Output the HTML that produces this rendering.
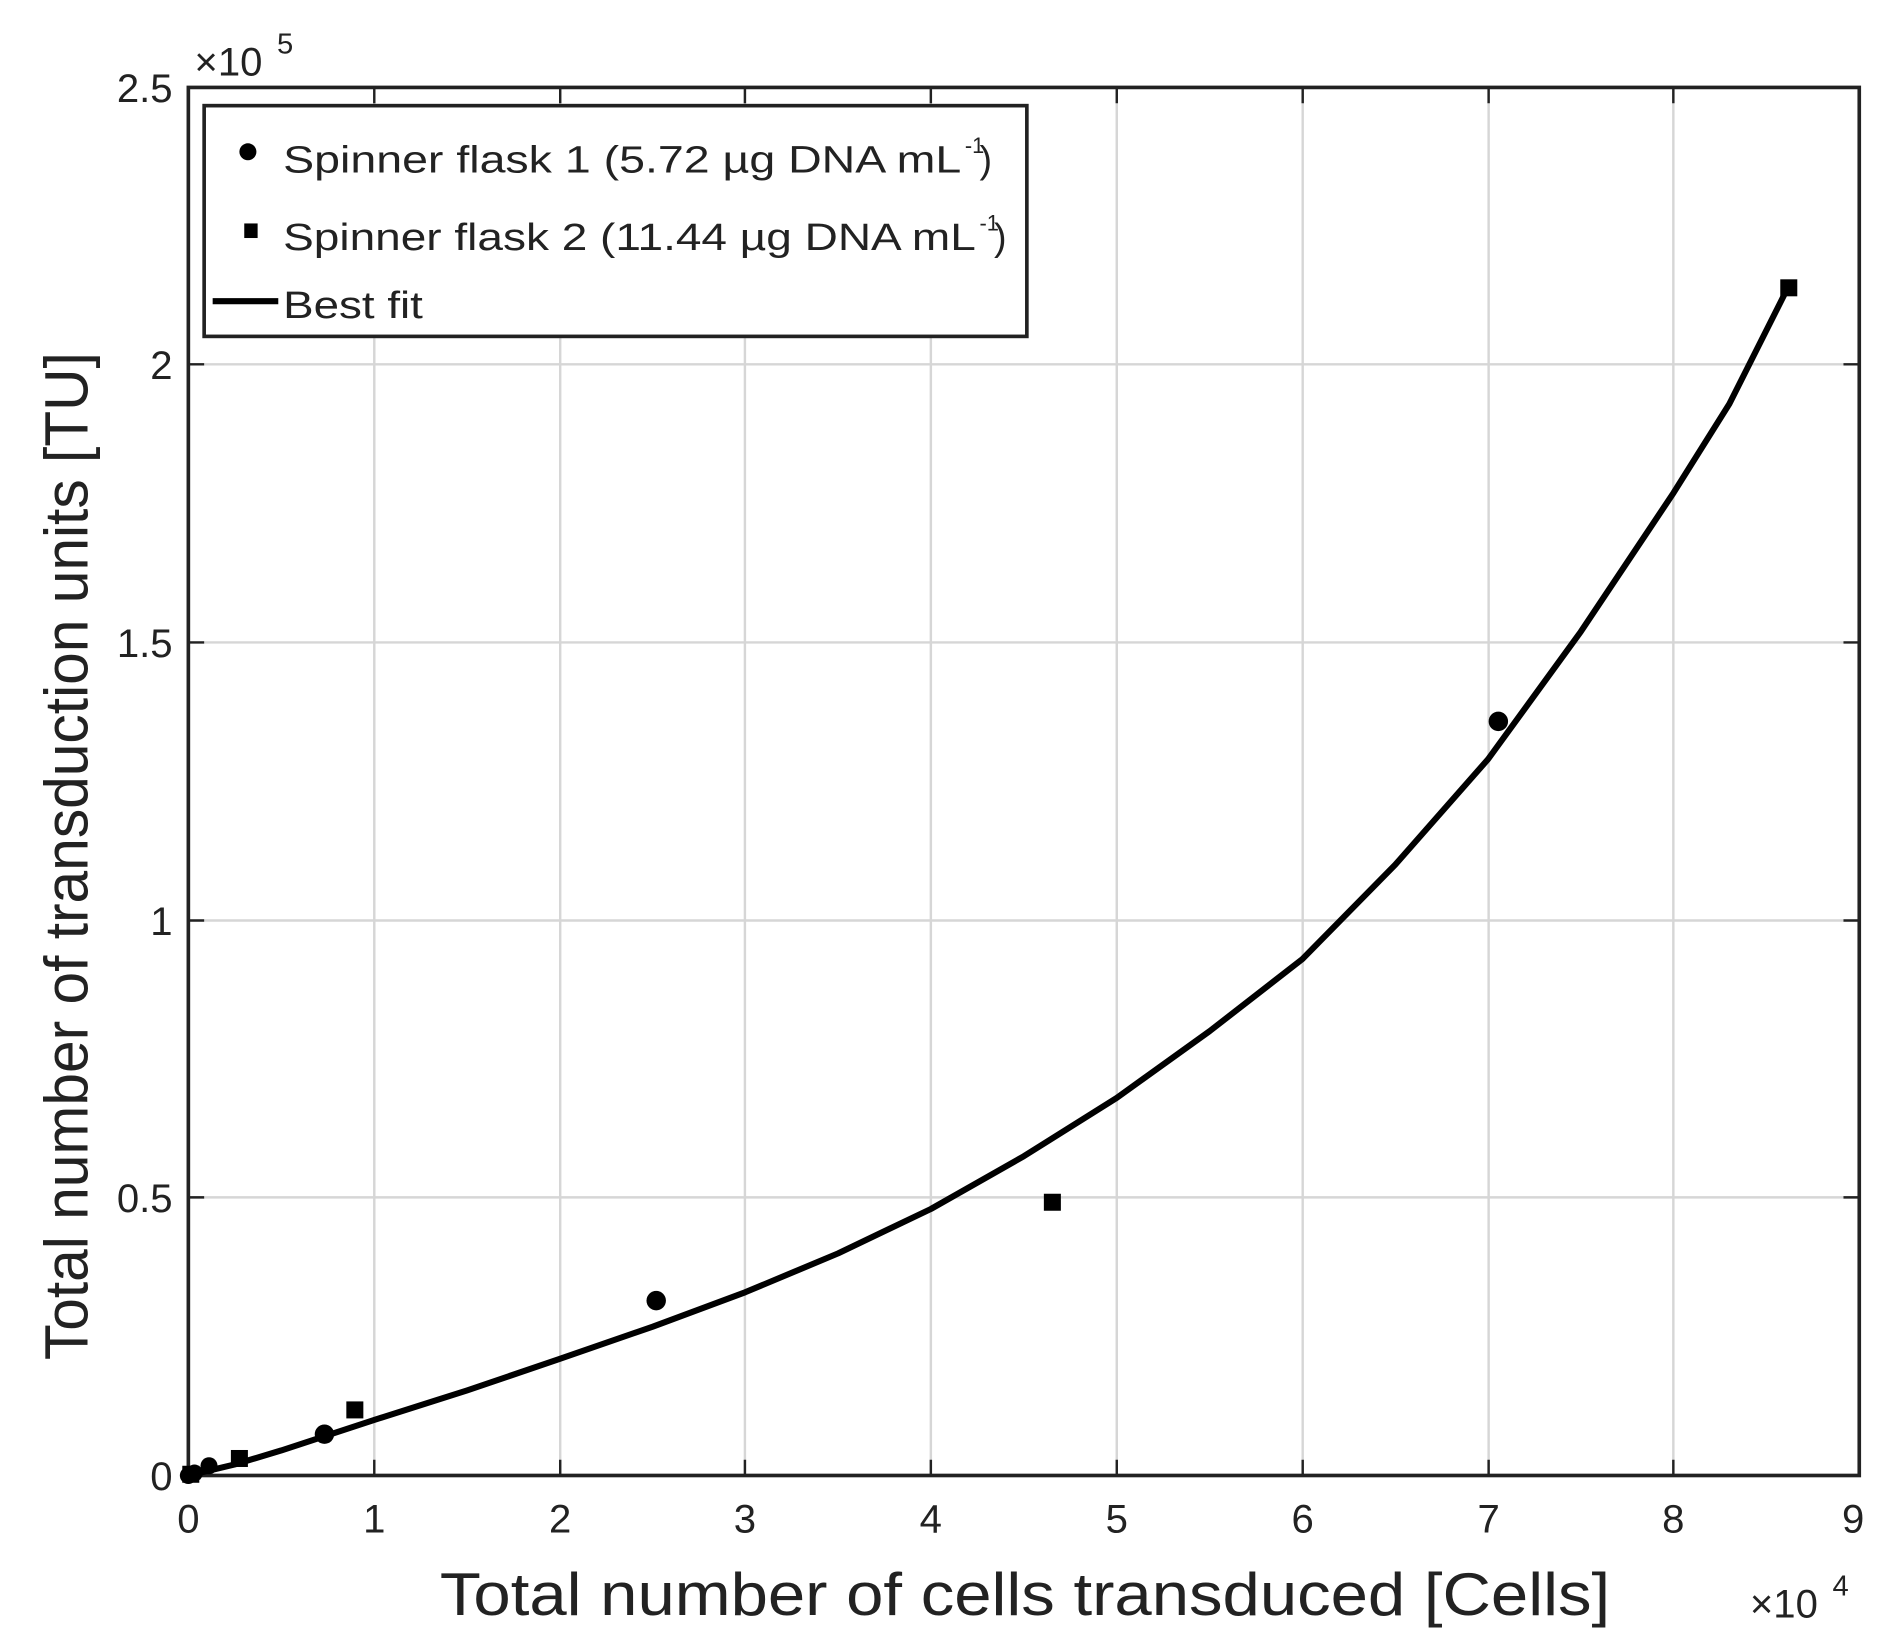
<!DOCTYPE html>
<html><head><meta charset="utf-8"><style>
html,body{margin:0;padding:0;background:#fff;}
svg{display:block;}
text{font-family:"Liberation Sans Narrow","Liberation Sans",sans-serif;fill:#222;}
</style></head><body>
<svg width="1886" height="1637" viewBox="0 0 1552 1348" preserveAspectRatio="none" xmlns="http://www.w3.org/2000/svg">
<rect width="1552" height="1348" fill="#fff"/>
<g stroke="#d6d6d6" stroke-width="2">
<line x1="308" y1="72" x2="308" y2="1215"/><line x1="461" y1="72" x2="461" y2="1215"/>
<line x1="613" y1="72" x2="613" y2="1215"/><line x1="766" y1="72" x2="766" y2="1215"/>
<line x1="919" y1="72" x2="919" y2="1215"/><line x1="1072" y1="72" x2="1072" y2="1215"/>
<line x1="1225" y1="72" x2="1225" y2="1215"/><line x1="1377" y1="72" x2="1377" y2="1215"/>
<line x1="155" y1="300" x2="1530" y2="300"/><line x1="155" y1="529" x2="1530" y2="529"/>
<line x1="155" y1="758" x2="1530" y2="758"/><line x1="155" y1="986" x2="1530" y2="986"/>
</g>
<g stroke="#222" stroke-width="2">
<path d="M308 1215v-13M461 1215v-13M613 1215v-13M766 1215v-13M919 1215v-13M1072 1215v-13M1225 1215v-13M1377 1215v-13"/>
<path d="M308 72v13M461 72v13M613 72v13M766 72v13M919 72v13M1072 72v13M1225 72v13M1377 72v13"/>
<path d="M155 300h13M155 529h13M155 758h13M155 986h13M1530 300h-13M1530 529h-13M1530 758h-13M1530 986h-13"/>
</g>
<rect x="155" y="72" width="1375" height="1143" fill="none" stroke="#222" stroke-width="3"/>
<g font-size="33" text-anchor="end">
<text x="142" y="84">2.5</text><text x="142" y="312">2</text><text x="142" y="541">1.5</text>
<text x="142" y="770">1</text><text x="142" y="998">0.5</text><text x="142" y="1227">0</text>
</g>
<g font-size="33" text-anchor="middle">
<text x="155" y="1262">0</text><text x="308" y="1262">1</text><text x="461" y="1262">2</text><text x="613" y="1262">3</text>
<text x="766" y="1262">4</text><text x="919" y="1262">5</text><text x="1072" y="1262">6</text><text x="1225" y="1262">7</text>
<text x="1377" y="1262">8</text><text x="1525" y="1262">9</text>
</g>
<text x="160" y="62" font-size="33">×10</text><text x="228" y="44" font-size="24">5</text>
<text x="1440" y="1332" font-size="33">×10</text><text x="1508" y="1314" font-size="24">4</text>
<text x="362" y="1330" font-size="50" textLength="963" lengthAdjust="spacingAndGlyphs">Total number of cells transduced [Cells]</text>
<text transform="translate(72,1120) rotate(-90)" font-size="50" textLength="830" lengthAdjust="spacingAndGlyphs">Total number of transduction units [TU]</text>
<polyline fill="none" stroke="#000" stroke-width="5" stroke-linejoin="round" points="155,1215 193.2,1205.9 231.4,1194.4 307.8,1169.3 384.2,1145 460.6,1119 537,1092.5 613.3,1064.1 689.7,1032.1 766.1,995.5 842.5,952.1 918.9,904.1 995.3,849.2 1071.7,789.8 1148.1,712.1 1224.5,625.2 1300.9,520.1 1377.2,405.8 1423.1,332.6 1468.9,241.5"/>
<g fill="#000">
<circle cx="155" cy="1215" r="7"/><circle cx="160" cy="1213" r="7"/><circle cx="172" cy="1207" r="7"/>
<circle cx="267" cy="1181" r="8"/><circle cx="540" cy="1071" r="8"/><circle cx="1233" cy="594" r="8"/>
<rect x="150" y="1207" width="14" height="14"/><rect x="190" y="1194" width="14" height="14"/>
<rect x="285" y="1154" width="14" height="14"/><rect x="859" y="983" width="14" height="14"/><rect x="1465" y="230" width="14" height="14"/>
</g>
<rect x="168" y="87" width="677" height="190" fill="#fff" stroke="#222" stroke-width="3"/>
<circle cx="204" cy="125" r="7" fill="#000"/>
<rect x="201" y="184" width="11" height="12" fill="#000"/>
<line x1="175" y1="248" x2="229" y2="248" stroke="#000" stroke-width="5"/>
<g font-size="31">
<text x="233" y="142" textLength="558" lengthAdjust="spacingAndGlyphs">Spinner flask 1 (5.72 µg DNA mL</text>
<text x="794" y="126" font-size="18">-1</text><text x="806" y="142">)</text>
<text x="233" y="206" textLength="570" lengthAdjust="spacingAndGlyphs">Spinner flask 2 (11.44 µg DNA mL</text>
<text x="806" y="190" font-size="18">-1</text><text x="818" y="206">)</text>
<text x="233" y="262" textLength="115" lengthAdjust="spacingAndGlyphs">Best fit</text>
</g>
</svg>
</body></html>
